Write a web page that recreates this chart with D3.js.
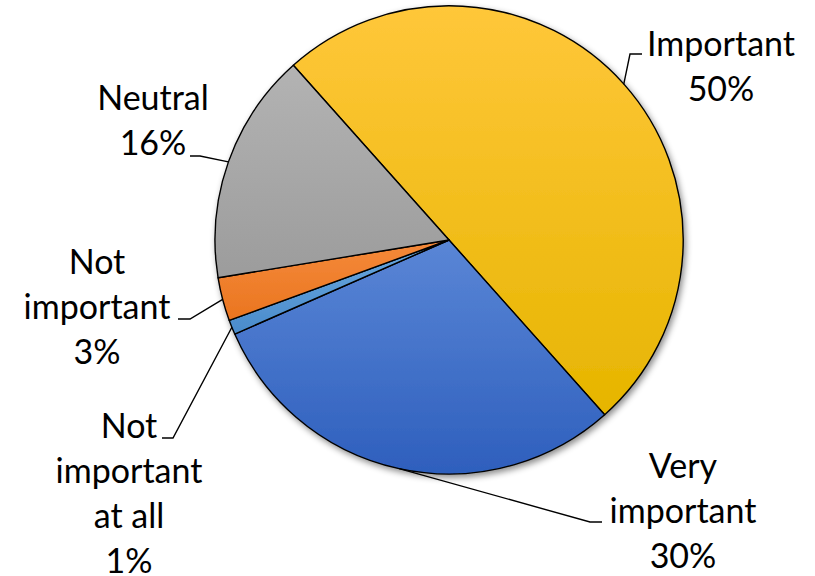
<!DOCTYPE html>
<html>
<head>
<meta charset="utf-8">
<script src="https://cdn.jsdelivr.net/npm/d3@7/dist/d3.min.js"></script>
<style>
  html, body { margin: 0; padding: 0; background: #ffffff; }
  svg { display: block; }
  text { font-family: Lato, "Liberation Sans", sans-serif; fill: #000; }
</style>
</head>
<body>
<svg id="chart" width="815" height="576"></svg>
<script>
// Survey answers, in the order the slices run clockwise
const categories = ["Important", "Very important", "Not important at all", "Not important", "Neutral"];
const shares = [50, 30, 1, 3, 16];
const labelLines = [
  ["Important", "50%"],
  ["Very", "important", "30%"],
  ["Not", "important", "at all", "1%"],
  ["Not", "important", "3%"],
  ["Neutral", "16%"]
];

// Slice fills: light top to dark bottom
const fillTop    = ["#ffc73a", "#5a86d6", "#6aa9e0", "#f58a3a", "#b3b3b3"];
const fillBottom = ["#e6b500", "#2e5fbd", "#4a8bcb", "#ea7520", "#9c9c9c"];

// Label blocks: text centre x, first baseline y, and the elbow of each leader line
const labelLayout = [
  { x: 721, y: 56,  elbow: [630, 54],  end: [642, 54] },
  { x: 683, y: 478, elbow: [590, 522], end: [602, 522] },
  { x: 129, y: 438, elbow: [173, 438], end: [162, 438] },
  { x: 97,  y: 274, elbow: [190, 319], end: [178, 319] },
  { x: 153, y: 110, elbow: [200, 156], end: [190, 156] }
];

const width = 815, height = 576;
const cx = 449, cy = 240, radius = 234;
const startDeg = -41.7;
const lineHeight = 45;

const svg = d3.select("#chart");
const defs = svg.append("defs");

// soft drop shadow under the pie
const shadow = defs.append("filter").attr("id", "pieShadow")
  .attr("x", "-10%").attr("y", "-10%").attr("width", "125%").attr("height", "125%");
shadow.append("feDropShadow")
  .attr("dx", 2).attr("dy", 3).attr("stdDeviation", 3)
  .attr("flood-color", "#000").attr("flood-opacity", 0.45);

categories.forEach((c, i) => {
  const g = defs.append("linearGradient").attr("id", "grad" + i)
    .attr("x1", 0).attr("y1", 0).attr("x2", 0).attr("y2", 1);
  g.append("stop").attr("offset", "0%").attr("stop-color", fillTop[i]);
  g.append("stop").attr("offset", "100%").attr("stop-color", fillBottom[i]);
});

const data = categories.map((c, i) => ({ name: c, value: shares[i], index: i }));

const start = startDeg * Math.PI / 180;
const pie = d3.pie().sort(null).value(d => d.value)
  .startAngle(start).endAngle(start + 2 * Math.PI);
const arcs = pie(data);

const arc = d3.arc().innerRadius(0).outerRadius(radius);

const pieG = svg.append("g")
  .attr("transform", `translate(${cx},${cy})`);

const slices = pieG.append("g").attr("filter", "url(#pieShadow)");
slices.selectAll("path")
  .data(arcs)
  .join("path")
  .attr("d", arc)
  .attr("fill", d => `url(#grad${d.data.index})`)
  .attr("stroke", "#000")
  .attr("stroke-width", 1.4)
  .attr("stroke-linejoin", "round");

// leader lines from the slice edge to the label
const edgePoint = d => {
  const a = (d.startAngle + d.endAngle) / 2;
  return [cx + radius * Math.sin(a), cy - radius * Math.cos(a)];
};

const line = d3.line();
svg.append("g").selectAll("path")
  .data(arcs)
  .join("path")
  .attr("d", d => {
    const L = labelLayout[d.data.index];
    return line([edgePoint(d), L.elbow, L.end]);
  })
  .attr("fill", "none")
  .attr("stroke", "#000")
  .attr("stroke-width", 1.4);

// labels
const labels = svg.append("g").selectAll("text")
  .data(arcs)
  .join("text")
  .attr("text-anchor", "middle")
  .attr("font-size", 34)
  .attr("x", d => labelLayout[d.data.index].x)
  .attr("y", d => labelLayout[d.data.index].y);

labels.each(function(d) {
  const L = labelLayout[d.data.index];
  const lines = labelLines[d.data.index].slice(0, -1).concat([d.data.value + "%"]);
  d3.select(this).selectAll("tspan")
    .data(lines)
    .join("tspan")
    .attr("x", L.x)
    .attr("y", (t, k) => L.y + k * lineHeight)
    .text(t => t);
});
</script>
</body>
</html>
